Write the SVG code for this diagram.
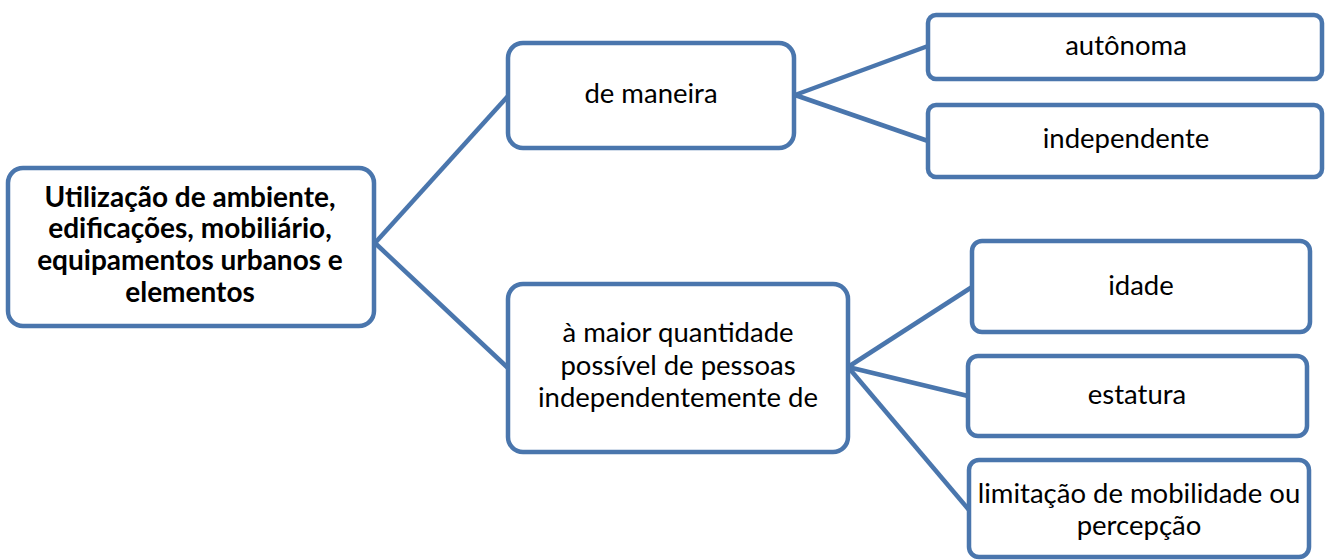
<svg xmlns="http://www.w3.org/2000/svg" width="1325" height="560" viewBox="0 0 1325 560">
<style>
.box{fill:#fff;stroke:#4A76AD;stroke-width:4.5}
.ln{stroke:#4A76AD;stroke-width:4.5;fill:none}
text{font-family:Lato,"Liberation Sans",sans-serif;font-size:27.5px;fill:#000;text-anchor:middle}
.b{font-weight:bold;font-size:28px}
</style>
<rect width="1325" height="560" fill="#fff"/>
<g id="connectors">
<line class="ln" x1="375" y1="243" x2="508" y2="96"/>
<line class="ln" x1="375" y1="243" x2="508" y2="368"/>
<line class="ln" x1="795" y1="95" x2="928" y2="46"/>
<line class="ln" x1="795" y1="95" x2="928" y2="141"/>
<line class="ln" x1="848" y1="367" x2="972" y2="287"/>
<line class="ln" x1="848" y1="367" x2="968" y2="396"/>
<line class="ln" x1="848" y1="367" x2="969" y2="510"/>
</g>
<g id="root">
<rect class="box" x="8" y="168" width="366" height="158" rx="15"/>
<text class="b" x="190" y="207">Utilização de ambiente,</text>
<text class="b" x="190" y="238">edificações, mobiliário,</text>
<text class="b" x="190" y="270">equipamentos urbanos e</text>
<text class="b" x="190" y="302">elementos</text>
</g>
<g id="maneira">
<rect class="box" x="508" y="43" width="286" height="105" rx="15"/>
<text x="651" y="103">de maneira</text>
</g>
<g id="autonoma">
<rect class="box" x="928" y="15" width="394" height="64" rx="8"/>
<text x="1126" y="55">autônoma</text>
</g>
<g id="independente">
<rect class="box" x="928" y="105" width="394" height="72" rx="8"/>
<text x="1126" y="148">independente</text>
</g>
<g id="quantidade">
<rect class="box" x="508" y="284" width="340" height="168" rx="15"/>
<text x="678" y="342">à maior quantidade</text>
<text x="678" y="375">possível de pessoas</text>
<text x="678" y="407">independentemente de</text>
</g>
<g id="idade">
<rect class="box" x="972" y="241" width="338" height="91" rx="10"/>
<text x="1141" y="295">idade</text>
</g>
<g id="estatura">
<rect class="box" x="968" y="356" width="339" height="80" rx="10"/>
<text x="1137" y="404">estatura</text>
</g>
<g id="limitacao">
<rect class="box" x="969" y="460" width="340" height="97" rx="10"/>
<text x="1139" y="503">limitação de mobilidade ou</text>
<text x="1139" y="535">percepção</text>
</g>
</svg>
